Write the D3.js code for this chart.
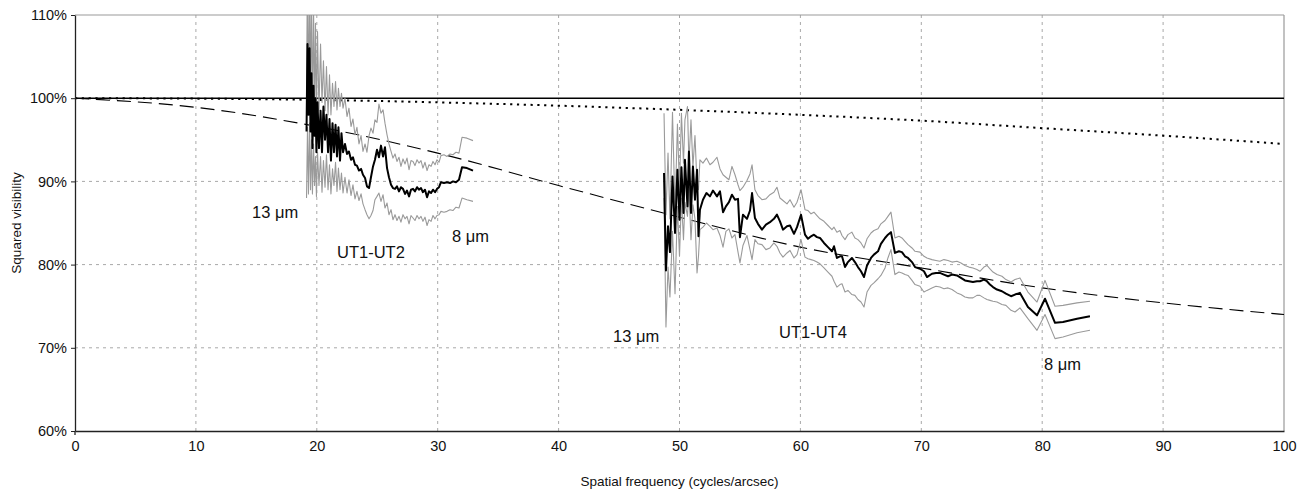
<!DOCTYPE html>
<html><head><meta charset="utf-8">
<script src="https://cdn.jsdelivr.net/npm/d3@7"></script>
<style>
html,body{margin:0;padding:0;background:#fff;}
svg text{font-family:"Liberation Sans",Arial,Helvetica,sans-serif;}
</style></head>
<body>
<svg id="chart" width="1315" height="494"></svg>
<script>
// ---------- data ----------
const xTicks = [0,10,20,30,40,50,60,70,80,90,100];
const yTicks = [60,70,80,90,100,110];

// model curves (spatial frequency, squared visibility %)
const modelFreq    = [0,10,20,30,40,50,60,70,80,90,100];
const unresolved   = [100,100,100,100,100,100,100,100,100,100,100];
const dottedModel  = [100,99.95,99.8,99.5,99.1,98.6,98.0,97.3,96.4,95.5,94.5];
const dashedModel  = [100,98.9,96.6,93.4,89.5,85.7,82.1,79.6,77.2,75.4,74.0];

// UT1-UT2 baseline
const ut12Freq = [19.15,19.23,19.31,19.40,19.48,19.56,19.64,19.73,19.81,19.89,19.97,20.06,
 20.18,20.31,20.43,20.55,20.68,20.80,20.93,21.05,21.17,21.30,21.42,21.55,21.67,21.79,21.92,22.04,22.17,
 22.33,22.50,22.66,22.83,22.99,23.16,23.32,23.49,23.66,23.82,23.99,24.15,24.32,24.48,24.65,24.81,24.98,
 25.14,25.31,25.48,25.64,25.81,25.97,26.14,26.30,26.47,26.63,26.80,26.96,27.13,27.30,27.46,27.63,27.79,
 27.96,28.12,28.29,28.45,28.62,28.78,28.95,29.12,29.28,29.45,29.61,29.78,29.94,30.11,30.27,
 30.52,30.77,31.02,31.26,31.51,31.76,32.01,32.42,32.92];
const ut12Mean = [96.0,106.5,98.0,106.0,96.0,103.0,94.0,101.5,95.5,100.0,93.5,99.5,
 94.0,98.5,93.5,99.0,95.0,98.0,93.5,97.5,92.5,97.0,93.5,96.8,93.0,96.5,92.5,95.8,93.5,
 94.5,93.3,93.6,92.6,92.9,92.0,91.9,91.3,91.5,90.8,90.4,89.4,89.2,90.5,91.8,92.6,93.8,
 92.9,94.3,93.0,94.1,91.6,90.5,89.6,89.2,89.1,89.4,88.8,89.3,89.1,88.5,88.9,88.2,89.0,
 89.1,88.8,89.3,89.0,89.2,88.7,89.0,88.1,88.8,88.6,89.0,88.7,89.1,89.3,89.9,
 89.8,89.9,89.8,90.0,89.9,90.2,91.7,91.6,91.3];
const ut12Upper = [101,116,99,114,100,113,98,111,99,109,97.5,108,
 98.5,106.5,99.5,104.5,98.5,103.8,98.0,102.8,98.0,101.8,99.0,102.0,98.6,101.2,99.0,100.6,98.8,
 100.0,97.8,98.8,96.6,97.5,95.6,96.5,94.5,95.5,93.6,94.5,93.5,95.5,96.4,95.8,97.4,97.1,
 99.3,98.2,98.6,97.0,95.6,94.5,93.6,92.8,93.3,92.4,92.9,91.8,92.7,92.1,92.8,91.4,92.5,
 92.4,91.9,92.6,92.2,92.5,91.6,92.3,91.3,92.0,91.8,92.4,92.0,92.6,92.3,93.1,
 93.2,93.0,93.3,93.2,93.5,93.4,95.3,95.2,94.9];
const ut12Lower = [88.0,96.5,88.5,97.0,89.0,95.0,88.5,94.5,89.5,93.0,88.2,93.5,
 89.5,93.0,88.7,92.5,89.3,93.2,89.0,92.0,88.5,91.5,89.5,92.3,88.8,91.6,89.0,91.0,88.6,
 90.5,88.6,90.2,88.3,89.6,87.9,88.8,87.7,88.5,87.3,86.6,86.0,85.5,85.9,86.5,87.8,88.2,
 88.6,87.6,88.4,86.8,87.4,86.0,86.6,85.4,86.0,85.3,85.8,85.1,86.0,85.5,85.8,84.9,85.9,
 85.6,85.3,85.9,85.5,85.8,85.2,85.7,84.7,85.4,85.2,85.9,85.5,85.9,86.0,86.4,
 86.3,86.4,86.6,86.5,86.9,86.8,88.0,87.8,87.6];

// UT1-UT4 baseline
const ut14Freq = [48.72,48.88,49.05,49.21,49.42,49.63,49.83,50.00,50.16,50.33,50.45,50.66,50.78,50.95,51.11,51.28,51.45,51.57,51.69,
 51.94,52.23,52.52,52.77,53.10,53.35,53.60,53.84,54.09,54.34,54.59,54.84,55.00,55.25,55.58,55.83,56.00,56.24,56.49,56.82,
 57.15,57.48,57.81,58.06,58.31,58.56,58.89,59.14,59.47,59.72,60.05,60.38,60.63,60.88,61.12,61.37,61.62,61.95,62.28,62.61,
 62.78,63.02,63.27,63.44,63.69,63.93,64.26,64.51,64.76,65.01,65.26,65.51,65.84,66.08,66.42,66.66,67.00,67.24,67.49,67.82,
 68.15,68.40,68.65,68.90,69.23,69.48,69.89,70.22,70.47,70.88,71.21,71.54,71.87,72.21,72.54,72.95,73.28,73.61,73.94,74.27,
 74.60,74.85,75.18,75.43,75.68,75.93,76.26,76.67,77.00,77.42,77.75,78.16,78.82,79.57,80.23,81.06,81.72,82.88,83.95];
const ut14Mean = [91.0,79.3,84.6,81.5,90.6,83.8,91.4,85.4,91.7,86.2,92.6,87.0,93.6,86.2,91.8,87.8,91.4,83.4,86.6,
 87.8,88.6,88.2,88.9,88.2,88.8,86.3,87.0,87.5,88.4,87.8,87.9,83.3,86.0,85.5,86.5,88.6,85.6,84.9,84.2,
 84.8,85.1,85.5,86.0,85.2,84.2,84.6,84.7,83.7,84.5,86.0,83.6,83.1,83.4,83.6,83.3,83.2,82.6,82.1,81.6,
 82.2,80.8,81.0,81.0,79.7,80.3,80.8,80.3,79.7,79.2,78.5,79.9,80.8,81.2,81.6,82.5,83.2,83.6,83.9,81.4,
 81.6,81.5,81.0,80.8,80.3,79.7,79.5,79.2,78.5,78.9,79.0,79.0,78.8,78.6,78.8,78.7,78.4,78.1,78.0,77.9,
 78.0,78.0,78.2,78.0,77.6,77.3,77.0,76.8,76.5,76.2,76.4,76.6,74.9,73.9,75.9,73.0,73.1,73.5,73.8];
const ut14Upper = [98.2,86.0,93.4,85.5,98.3,86.5,96.9,89.0,98.2,92.2,97.4,99.0,92.2,97.4,91.8,95.5,89.6,89.0,92.6,
 92.2,92.8,92.0,92.3,92.9,91.5,90.8,90.5,90.2,91.8,90.8,89.6,88.9,89.3,90.1,90.9,92.0,89.0,88.3,87.8,
 87.9,88.4,88.7,89.3,88.0,87.7,87.3,87.8,86.9,87.5,89.0,86.6,86.5,86.1,86.3,85.9,85.5,85.2,84.7,84.2,
 84.5,83.9,84.1,83.5,83.0,83.6,83.9,83.2,83.0,82.6,82.0,83.1,83.8,84.1,84.3,84.9,85.3,85.8,86.3,83.2,
 83.4,83.2,82.8,82.4,82.0,81.6,81.5,81.0,80.8,80.6,80.5,80.4,80.6,80.5,80.3,80.4,80.2,79.9,79.7,79.6,
 79.4,79.2,79.7,79.9,79.5,79.1,78.8,78.6,78.2,77.9,78.2,78.4,76.7,75.5,78.1,75.0,75.1,75.4,75.6];
const ut14Lower = [88.0,72.5,79.7,76.1,84.0,76.5,87.0,81.0,88.0,83.0,87.5,85.8,89.2,83.0,87.2,85.5,79.0,81.0,84.2,
 84.5,85.0,84.6,84.2,84.4,83.5,82.1,84.0,84.3,83.2,83.6,81.5,80.2,82.3,83.5,81.8,80.6,83.0,82.5,82.4,
 81.8,82.0,82.6,82.2,81.4,80.9,81.4,81.7,80.8,81.2,83.0,80.9,80.7,80.6,80.5,80.3,80.1,79.6,79.1,78.6,
 78.0,77.3,77.6,77.7,76.7,76.9,76.4,76.3,75.8,75.5,74.9,76.7,77.5,77.8,78.3,78.7,79.6,80.8,81.8,78.8,
 79.1,79.0,78.8,78.7,78.1,77.6,77.4,76.7,76.9,77.2,77.4,77.3,77.1,77.2,77.0,76.6,76.4,76.1,76.0,76.0,
 76.3,76.3,76.0,75.8,75.7,75.6,75.5,75.2,75.1,74.5,74.3,74.8,73.5,72.1,74.0,71.1,71.3,71.8,72.1];

// text annotations (frequency, visibility %, text)
const annotations = [
  {f:14.64, v:85.6, text:"13 \u03bcm"},
  {f:21.67, v:80.8, text:"UT1-UT2"},
  {f:31.18, v:82.7, text:"8 \u03bcm"},
  {f:44.5,  v:70.7, text:"13 \u03bcm"},
  {f:58.23, v:71.2, text:"UT1-UT4"},
  {f:80.15, v:67.3, text:"8 \u03bcm"}
];

// ---------- chart ----------
const W = 1315, H = 494;
const m = {left:75, right:31, top:15, bottom:63};
const svg = d3.select("#chart");
const x = d3.scaleLinear().domain([0,100]).range([m.left, W - m.right]);
const y = d3.scaleLinear().domain([60,110]).range([H - m.bottom, m.top]);

svg.append("defs").append("clipPath").attr("id","clip")
  .append("rect").attr("x", x(0)).attr("y", y(110))
  .attr("width", x(100)-x(0)).attr("height", y(60)-y(110));

// grid
const grid = svg.append("g");
grid.selectAll("line.v").data(xTicks.filter(d => d > 0 && d < 100)).enter().append("line")
  .attr("x1", d => x(d)).attr("x2", d => x(d)).attr("y1", y(60)).attr("y2", y(110))
  .attr("stroke","#a8a8a8").attr("stroke-width",1).attr("stroke-dasharray","3,4");
grid.selectAll("line.h").data(yTicks.filter(d => d > 60 && d < 100)).enter().append("line")
  .attr("y1", d => y(d)).attr("y2", d => y(d)).attr("x1", x(0)).attr("x2", x(100))
  .attr("stroke","#a8a8a8").attr("stroke-width",1).attr("stroke-dasharray","3,4");
// top & right border
svg.append("line").attr("x1",x(0)).attr("x2",x(100)).attr("y1",y(110)).attr("y2",y(110))
  .attr("stroke","#999").attr("stroke-width",1.2);
svg.append("line").attr("x1",x(100)).attr("x2",x(100)).attr("y1",y(110)).attr("y2",y(60))
  .attr("stroke","#999").attr("stroke-width",1.2);

const plot = svg.append("g").attr("clip-path","url(#clip)");
const line = d3.line().x(d => x(d[0])).y(d => y(d[1]));
const smooth = d3.line().x(d => x(d[0])).y(d => y(d[1])).curve(d3.curveMonotoneX);
const zip = (a,b) => a.map((v,i) => [v, b[i]]);

plot.append("path").attr("d", smooth(zip(modelFreq, dashedModel)))
  .attr("fill","none").attr("stroke","#000").attr("stroke-width",1.1).attr("stroke-dasharray","14,7");
plot.append("path").attr("d", smooth(zip(modelFreq, dottedModel)))
  .attr("fill","none").attr("stroke","#000").attr("stroke-width",2).attr("stroke-dasharray","2.2,4.6");
plot.append("path").attr("d", line(zip(modelFreq, unresolved)))
  .attr("fill","none").attr("stroke","#000").attr("stroke-width",1.6);

[[ut12Freq, ut12Upper],[ut12Freq, ut12Lower],[ut14Freq, ut14Upper],[ut14Freq, ut14Lower]].forEach(([f,v]) => {
  plot.append("path").attr("d", line(zip(f, v)))
    .attr("fill","none").attr("stroke","#9a9a9a").attr("stroke-width",1.1).attr("stroke-linejoin","round");
});
[[ut12Freq, ut12Mean],[ut14Freq, ut14Mean]].forEach(([f,v]) => {
  plot.append("path").attr("d", line(zip(f, v)))
    .attr("fill","none").attr("stroke","#000").attr("stroke-width",2).attr("stroke-linejoin","round");
});

// axes
const yAxis = d3.axisLeft(y).tickValues(yTicks).tickFormat(d => d + "%").tickSize(4).tickSizeOuter(0);
const gy = svg.append("g").attr("transform", `translate(${x(0)},0)`).call(yAxis);
gy.select(".domain").attr("stroke","#222").attr("stroke-width",1.3);
gy.selectAll(".tick line").attr("stroke","#222");
gy.selectAll("text").attr("font-size","14.5px").attr("fill","#111").attr("x",-8);

const xAxis = d3.axisBottom(x).tickValues(xTicks).tickSize(0).tickSizeOuter(0).tickPadding(10);
const gx = svg.append("g").attr("transform", `translate(0,${y(60)})`).call(xAxis);
gx.select(".domain").attr("stroke","#222").attr("stroke-width",1.3);
gx.selectAll("text").attr("font-size","14.5px").attr("fill","#111");
svg.append("line").attr("x1",x(0)).attr("x2",x(0)).attr("y1",y(60)).attr("y2",y(60)+4)
  .attr("stroke","#222").attr("stroke-width",1.3);

// axis titles
svg.append("text").attr("x", (x(0)+x(100))/2).attr("y", 486).attr("text-anchor","middle")
  .attr("font-size","13.5px").attr("fill","#111").text("Spatial frequency (cycles/arcsec)");
svg.append("text").attr("transform", `translate(21,${(y(60)+y(110))/2}) rotate(-90)`)
  .attr("text-anchor","middle").attr("font-size","13.5px").attr("fill","#111").text("Squared visibility");

// annotations
svg.selectAll("text.ann").data(annotations).enter().append("text").attr("class","ann")
  .attr("x", d => x(d.f)).attr("y", d => y(d.v))
  .attr("font-size","16.5px").attr("fill","#111").text(d => d.text);
</script>
</body></html>
